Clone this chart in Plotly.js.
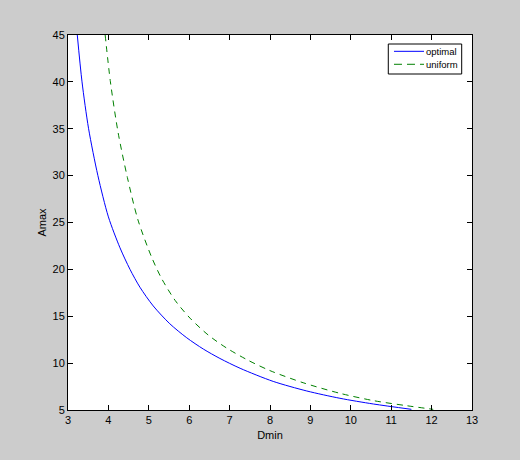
<!DOCTYPE html>
<html>
<head>
<meta charset="utf-8">
<script src="https://cdn.plot.ly/plotly-3.0.1.min.js"></script>
<style>html,body{margin:0;padding:0;background:#cccccc;}#chart{width:520px;height:460px;}</style>
</head>
<body>
<div id="chart"></div>
<script>
// Data
const optimalD = [3.23, 3.347, 3.51, 3.74, 4.0, 4.287, 4.535, 4.78, 5.11, 5.52, 5.94, 6.35, 6.76, 7.26, 8.08, 8.91, 9.73, 10.56, 11.5];
const optimalA = [45, 40, 35, 30, 25.6, 22.3, 20.0, 18.1, 16.1, 14.2, 12.7, 11.5, 10.5, 9.45, 8.05, 7.03, 6.25, 5.64, 5.07];
const uniformD = [3.92, 4.05, 4.24, 4.47, 4.73, 5.07, 5.32, 5.65, 6.02, 6.47, 6.93, 7.46, 8.0, 8.82, 9.73, 10.56, 11.38, 12.04];
const uniformA = [45, 40, 34.6, 29.8, 25.3, 21.3, 19.0, 16.7, 14.8, 13.0, 11.6, 10.3, 9.2, 7.91, 6.78, 6.0, 5.46, 5.07];
const seriesNames = ['optimal', 'uniform'];
const seriesColors = ['#0000ff', '#008000'];

const FONT = 'Liberation Sans, Arial, sans-serif';

const traces = [
  {x: optimalD, y: optimalA, name: seriesNames[0], mode: 'lines', type: 'scatter', showlegend: false,
   line: {color: seriesColors[0], width: 1, shape: 'spline', smoothing: 0.8}},
  {x: uniformD, y: uniformA, name: seriesNames[1], mode: 'lines', type: 'scatter', showlegend: false,
   line: {color: seriesColors[1], width: 1, dash: '6px,5px', shape: 'spline', smoothing: 0.8}}
];

const axisCommon = {
  showgrid: false, zeroline: false, showline: true, linecolor: '#000', linewidth: 1,
  mirror: 'ticks', ticks: 'inside', ticklen: 5, tickcolor: '#000', tickwidth: 1,
  tickfont: {family: FONT, size: 11, color: '#000'}
};

// Legend box (MATLAB style), placed in paper coordinates
const lgX0 = 0.7928, lgX1 = 0.9745, lgY0 = 0.896, lgY1 = 0.976;
const lgLineX0 = 0.8069, lgLineX1 = 0.8812, lgTextX = 0.8812;
const lgRowY = [0.9565, 0.9219];

const shapes = [
  {type: 'rect', xref: 'paper', yref: 'paper', x0: lgX0, x1: lgX1, y0: lgY0, y1: lgY1,
   fillcolor: '#ffffff', line: {color: '#000', width: 1}},
  {type: 'line', xref: 'paper', yref: 'paper', x0: lgLineX0, x1: lgLineX1, y0: lgRowY[0], y1: lgRowY[0],
   line: {color: seriesColors[0], width: 1}},
  {type: 'line', xref: 'paper', yref: 'paper', x0: lgLineX0, x1: lgLineX1, y0: lgRowY[1], y1: lgRowY[1],
   line: {color: seriesColors[1], width: 1, dash: '8px,5px'}}
];
const annotations = seriesNames.map((n, i) => ({
  xref: 'paper', yref: 'paper', x: lgTextX, y: lgRowY[i], xanchor: 'left', yanchor: 'middle',
  text: n, showarrow: false, font: {family: FONT, size: 9.5, color: '#000'}
}));

const layout = {
  width: 520, height: 460,
  paper_bgcolor: '#cccccc', plot_bgcolor: '#ffffff',
  margin: {l: 68, r: 48, t: 35, b: 50},
  showlegend: false,
  shapes: shapes,
  annotations: annotations,
  xaxis: Object.assign({}, axisCommon, {range: [3, 13], dtick: 1, tick0: 3,
    title: {text: 'Dmin', standoff: 6, font: {family: FONT, size: 11, color: '#000'}}}),
  yaxis: Object.assign({}, axisCommon, {range: [5, 45], dtick: 5, tick0: 5,
    title: {text: 'Amax', standoff: 3, font: {family: FONT, size: 11, color: '#000'}}})
};

Plotly.newPlot('chart', traces, layout, {displayModeBar: false, staticPlot: true});
</script>
</body>
</html>
